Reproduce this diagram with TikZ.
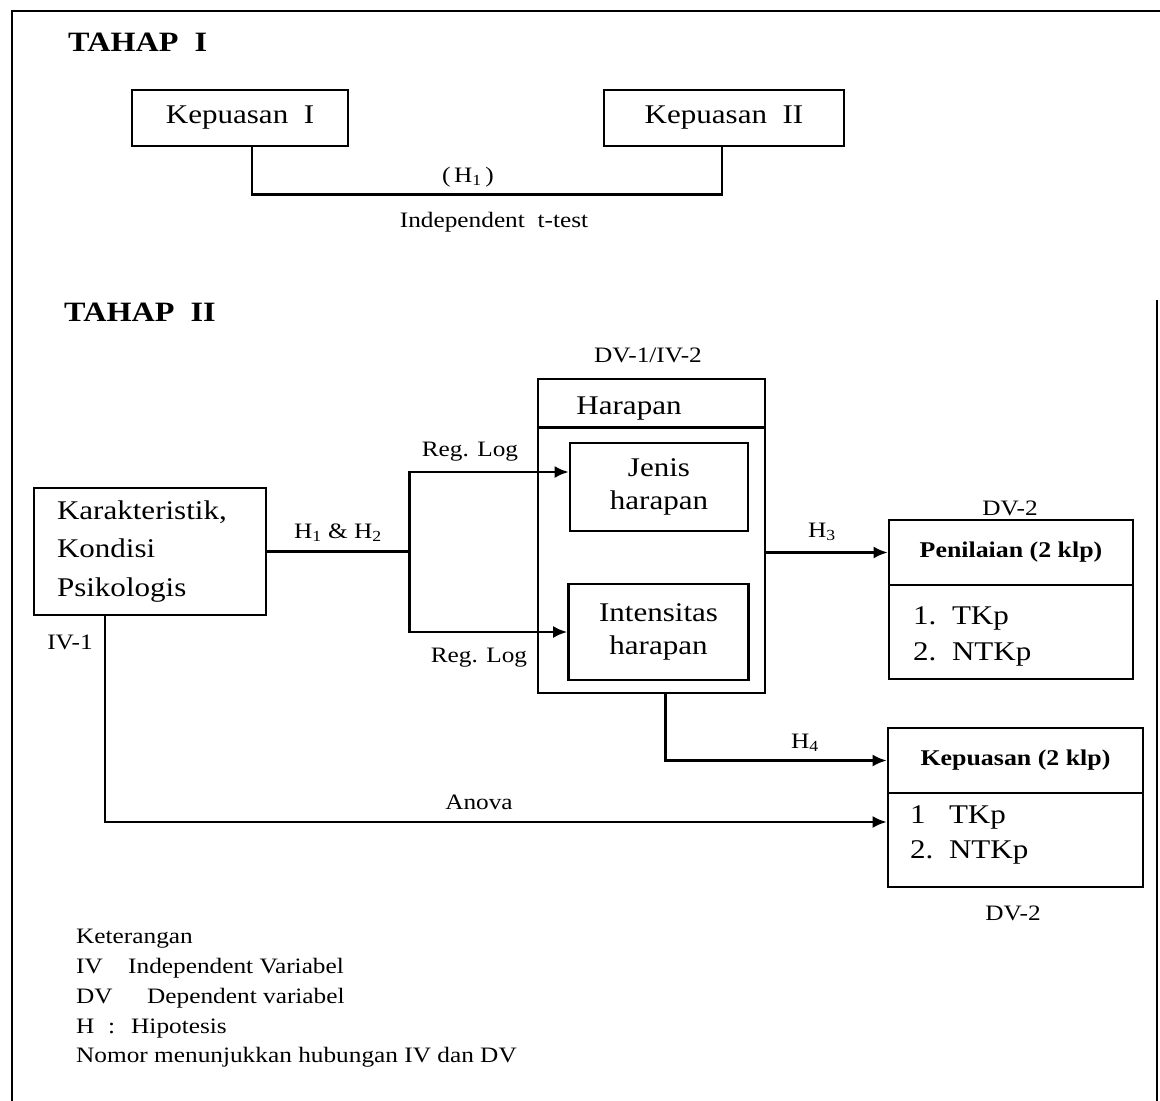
\documentclass[tikz,border=0pt]{standalone}
\usepackage{fontspec}
\setmainfont{Liberation Serif}[FakeStretch=1.15]
\usetikzlibrary{arrows.meta,calc}

\begin{document}
\begin{tikzpicture}[x=1pt,y=-1pt,
  line/.style={line width=2.6pt},
  arrow/.style={line width=2.6pt,-{Latex[length=14pt,width=12pt]}},
  box/.style={draw,line width=2.6pt,inner sep=0pt,align=center},
  boxtext/.style={font=\fontsize{27}{33}\selectfont},
  headtext/.style={font=\bfseries\fontsize{22.5}{27}\selectfont},
  lbl/.style={inner sep=0pt,font=\fontsize{22}{26}\selectfont},
  title/.style={inner sep=0pt,anchor=west,font=\bfseries\fontsize{28}{32}\selectfont},
  legend/.style={inner sep=0pt,anchor=base west,font=\fontsize{22}{26}\selectfont},
  frame/.style={line width=2.2pt}
]
\useasboundingbox (0,0) rectangle (1160,1101);

% outer frame
\draw[frame] (12,1101) -- (12,11) -- (1160,11);
\draw[frame] (1157,300) -- (1157,1101);

% ---------------- Stage I ----------------
\node[title] (t1) at (68,42) {TAHAP\ \ I};
\node[box,boxtext,minimum width=216,minimum height=56] (k1) at (240,118) {Kepuasan\ \ I};
\node[box,boxtext,minimum width=240,minimum height=56] (k2) at (724,118) {Kepuasan\ \ II};
\draw[line] ([xshift=12pt]k1.south) -- ++(0,47) -| ([xshift=-2pt]k2.south);
\node[lbl] (h1) at (468,177) {(\,H\textsubscript{1}\,)};
\node[lbl] (tt) at (494,222) {Independent\ \ t-test};

% ---------------- Stage II ----------------
\node[title] (t2) at (64,312) {TAHAP\ \ II};

% independent variable
\node[box,boxtext,minimum width=232,minimum height=127,text width=186,
      inner xsep=23,align=left,font=\fontsize{27}{38.5}\selectfont] (kar) at (150,551.5)
  {Karakteristik,\\Kondisi\\Psikologis};
\node[lbl] (iv1) at (70,642) {IV-1};

% expectation block
\node[box,minimum width=227,minimum height=314] (har) at (651.5,536) {};
\draw[line] ($(har.north west)+(0,50)$) -- ($(har.north east)+(0,50)$);
\node[boxtext,inner sep=0pt] (hart) at (629,409) {Harapan};
\node[lbl] (dv1) at (648,355) {DV-1/IV-2};
\node[box,boxtext,minimum width=178,minimum height=88] (jenis) at (659,487) {Jenis\\harapan};
\node[box,boxtext,minimum width=180,minimum height=96] (intens) at (658.5,632) {Intensitas\\harapan};

% branching from the independent variable
\coordinate (j) at ($(kar.east)+(142,0)$);
\draw[line] (kar.east) -- (j);
\node[lbl] (h12) at (338,533) {H\textsubscript{1} \& H\textsubscript{2}};
\draw[arrow] (j) |- ($(jenis.west)+(0,-15)$);
\draw[arrow] (j) |- (intens.west);
\node[lbl] (rl1) at (470,452) {Reg. Log};
\node[lbl] (rl2) at (479,658) {Reg. Log};

% dependent variable: Penilaian
\node[box,headtext,minimum width=244,minimum height=65] (penh) at (1011,552.5) {Penilaian (2 klp)};
\node[box,minimum width=244,minimum height=94] (penb) at (1011,632) {};
\node[boxtext,inner sep=0pt,anchor=west,align=left,font=\fontsize{27}{36}\selectfont] (pent) at (913,636)
  {1.\ \ TKp\\2.\ \ NTKp};
\node[lbl] (dv2a) at (1010,508) {DV-2};

% dependent variable: Kepuasan
\node[box,headtext,minimum width=255,minimum height=65] (kph) at (1015.5,760.5) {Kepuasan (2 klp)};
\node[box,minimum width=255,minimum height=94] (kpb) at (1015.5,840) {};
\node[boxtext,inner sep=0pt,anchor=west,align=left,font=\fontsize{27}{35}\selectfont] (kpt) at (910,835)
  {1\ \ \ TKp\\2.\ \ NTKp};
\node[lbl] (dv2b) at (1013,913) {DV-2};

% hypotheses
\draw[arrow] (har.east |- penh.west) -- (penh.west);
\node[lbl] (h3) at (822,532) {H\textsubscript{3}};
\draw[arrow] ([xshift=14pt]har.south) |- (kph.west);
\node[lbl] (h4) at (805,743) {H\textsubscript{4}};
\draw[arrow] ([xshift=-45pt]kar.south) |- ($(kpb.west)+(0,-18)$);
\node[lbl] (anova) at (479,802) {Anova};

% legend
\node[legend] (lg0) at (76,943) {Keterangan};
\node[legend] (lg1a) at (76,973) {IV};
\node[legend] (lg1b) at (128,973) {Independent Variabel};
\node[legend] (lg2a) at (76,1003) {DV};
\node[legend] (lg2b) at (147,1003) {Dependent variabel};
\node[legend] (lg3a) at (76,1033) {H};
\node[legend] (lg3c) at (108,1033) {:};
\node[legend] (lg3b) at (131,1033) {Hipotesis};
\node[legend] (lg4) at (76,1062) {Nomor menunjukkan hubungan IV dan DV};
\end{tikzpicture}
\end{document}
